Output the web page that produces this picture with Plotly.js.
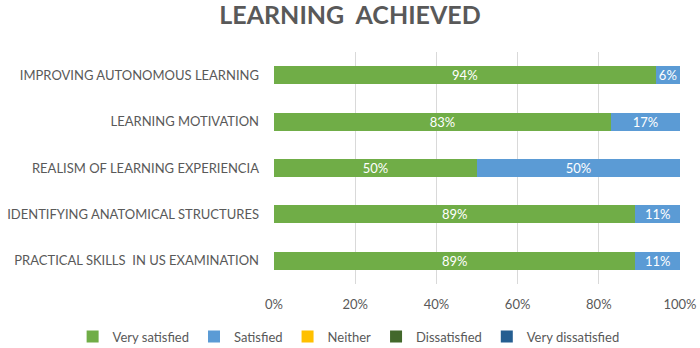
<!DOCTYPE html>
<html><head><meta charset="utf-8">
<script src="https://cdn.plot.ly/plotly-3.0.1.min.js"></script>
<style>body{margin:0;background:#fff}#c{width:700px;height:348px}</style>
</head><body><div id="c"></div>
<script>
const categories = ["PRACTICAL SKILLS\u00a0 IN US EXAMINATION","IDENTIFYING ANATOMICAL STRUCTURES","REALISM OF LEARNING EXPERIENCIA","LEARNING MOTIVATION","IMPROVING AUTONOMOUS LEARNING"];
const seriesNames = ["Very satisfied","Satisfied","Neither","Dissatisfied","Very dissatisfied"];
const verySatisfied = [89, 89, 50, 83, 94];
const satisfied = [11, 11, 50, 17, 6];
const neither = [0, 0, 0, 0, 0];
const dissatisfied = [0, 0, 0, 0, 0];
const veryDissatisfied = [0, 0, 0, 0, 0];
const xTicks = [0, 20, 40, 60, 80, 100];
const xTickLabels = ["0%","20%","40%","60%","80%","100%"];
const colors = ["#70AD47","#5B9BD5","#FFC000","#43682B","#255E91"];
const values = [verySatisfied, satisfied, neither, dissatisfied, veryDissatisfied];
const FONT = 'Lato, sans-serif';
const traces = values.map((v,i)=>({
  type:'bar', orientation:'h', name:seriesNames[i], y:categories, x:v,
  marker:{color:colors[i]},
  text:v.map(d=>d>0?d+'%':''), textposition:'inside', insidetextanchor:'middle', constraintext:'none',
  textfont:{color:'#ffffff',size:13,family:FONT},
  hoverinfo:'none', cliponaxis:false
}));
const layout = {
  width:700, height:348, barmode:'stack', bargap:0.61,
  margin:{l:274,r:20,t:52,b:64,autoexpand:false},
  paper_bgcolor:'#fff', plot_bgcolor:'#fff',
  font:{family:FONT, color:'#595959', size:13},
  title:{text:'<b>LEARNING  ACHIEVED</b>', x:0.5, xanchor:'center', y:0.957, yanchor:'middle',
    font:{size:25, color:'#595959', family:'Lato, sans-serif'}},
  xaxis:{range:[0,100], tickvals:xTicks, ticktext:xTickLabels, showgrid:true, gridcolor:'#d9d9d9',
    zeroline:false, showline:false, ticks:'', ticklabelstandoff:11, tickfont:{size:13,color:'#595959'}, fixedrange:true},
  yaxis:{showgrid:false, zeroline:false, showline:false, ticks:'', ticklen:0, ticklabelstandoff:14,
    tickfont:{size:13,color:'#595959'}, automargin:false},
  showlegend:true,
  legend:{orientation:'h', x:-0.496, xref:'paper', xanchor:'left', y:-0.227, yref:'paper', yanchor:'middle',
    bgcolor:'rgba(0,0,0,0)', font:{size:13,color:'#595959'}, itemwidth:30, traceorder:'normal', itemclick:false, tracegroupgap:0}
};
Plotly.newPlot('c', traces, layout, {displayModeBar:false, staticPlot:true});
</script></body></html>
